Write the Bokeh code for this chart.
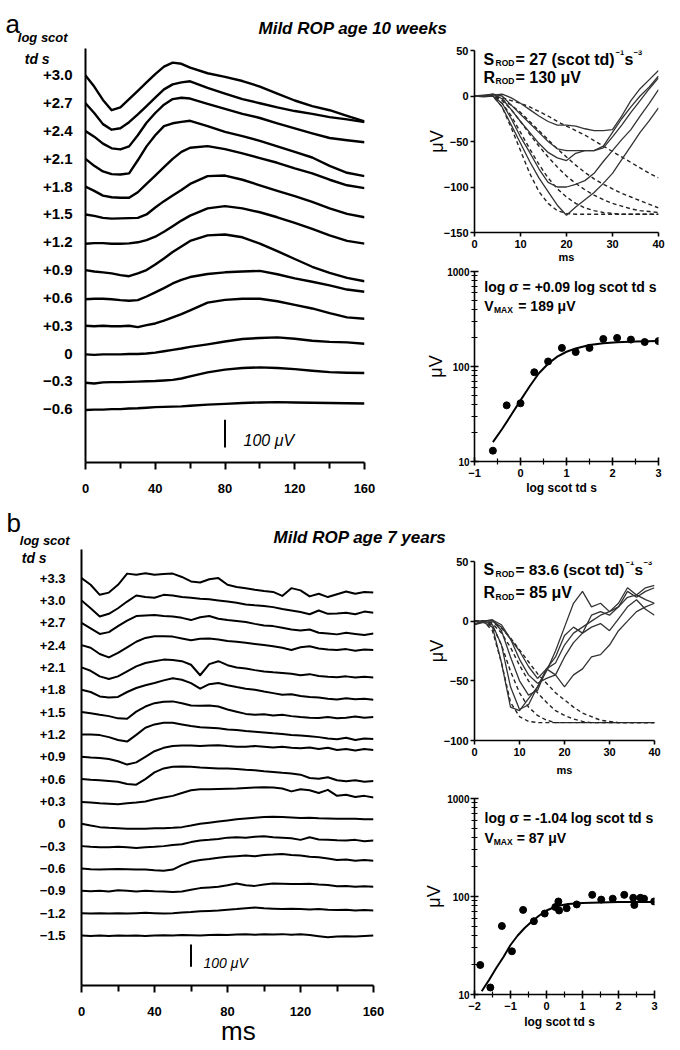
import math
from bokeh.plotting import figure
from bokeh.layouts import row, column
from bokeh.models import Range1d, FixedTicker, Label, LinearAxis
from bokeh.embed import file_html
from bokeh.resources import INLINE

FONT = "Liberation Sans"
M = "\u2212"

# ======================= DATA =======================
# ---- panel a, left: ERG waveforms (uV), time in ms ----
TIME_A = [0, 5, 10, 15, 20, 25, 30, 35, 40, 45, 50, 55, 60, 70, 80, 90, 100, 110, 120, 130, 140, 150, 160]
INTENSITY_A = ["+3.0", "+2.7", "+2.4", "+2.1", "+1.8", "+1.5", "+1.2", "+0.9", "+0.6", "+0.3", "0", M + "0.3", M + "0.6"]
ERG_A = [
    [0, -40, -88, -125, -115, -85, -55, -25, 5, 32, 46, 42, 28, 8, -5, -20, -40, -65, -90, -110, -125, -145, -165],
    [0, -35, -75, -95, -90, -68, -40, -10, 20, 50, 68, 75, 79, 55, 35, 15, 0, -15, -28, -38, -50, -58, -68],
    [0, -20, -45, -62, -66, -55, -15, 30, 65, 95, 115, 120, 117, 98, 80, 62, 47, 28, 10, -8, -25, -33, -40],
    [0, -25, -45, -55, -56, -52, -5, 45, 85, 118, 128, 133, 137, 118, 97, 82, 65, 45, 25, 5, -25, -50, -62],
    [0, -15, -32, -38, -40, -40, -20, 10, 40, 70, 100, 125, 140, 146, 135, 120, 103, 86, 66, 48, 25, 5, -5],
    [0, -5, -12, -15, -14, -13, -12, 0, 25, 48, 68, 88, 110, 138, 140, 125, 105, 85, 66, 45, 22, 2, -10],
    [-5, -3, -3, -5, -5, -4, 0, 8, 20, 38, 58, 78, 96, 122, 130, 122, 108, 90, 70, 48, 25, 5, -5],
    [0, -5, -8, -12, -18, -22, -12, 0, 20, 42, 65, 85, 105, 125, 128, 118, 95, 68, 40, 12, -10, -28, -40],
    [-5, -3, -3, -5, -8, -10, -8, 5, 20, 35, 52, 65, 75, 86, 92, 95, 97, 85, 70, 58, 45, 30, 22],
    [0, -2, 0, -2, -2, 0, -5, 2, 8, 18, 30, 42, 55, 83, 93, 97, 97, 88, 75, 62, 45, 30, 25],
    [-3, -5, -3, -3, -3, -2, -2, 0, 3, 8, 13, 18, 24, 33, 43, 52, 56, 58, 53, 46, 42, 40, 35],
    [-5, -8, -4, -3, -3, -2, -1, 0, 1, 3, 5, 10, 18, 32, 42, 48, 50, 48, 44, 38, 33, 31, 30],
    [-3, -2, -2, 0, 0, 2, 3, 5, 7, 8, 9, 10, 12, 16, 19, 22, 24, 25, 24, 23, 22, 21, 20],
]
SCALE_A_MS = 80
X_TICKS_LEFT = [0, 40, 80, 120, 160]
X_MINOR_LEFT = [20, 60, 100, 140]

# ---- panel b, left ----
TIME_B = [0, 5, 10, 15, 20, 25, 30, 35, 40, 45, 50, 55, 60, 65, 70, 75, 80, 85, 90, 95, 100,
          105, 110, 115, 120, 125, 130, 135, 140, 145, 150, 155, 160]
INTENSITY_B = ["+3.3", "+3.0", "+2.7", "+2.4", "+2.1", "+1.8", "+1.5", "+1.2", "+0.9", "+0.6", "+0.3",
               "0", M + "0.3", M + "0.6", M + "0.9", M + "1.2", M + "1.5"]
ERG_B = [
    [0, -30, -75, -65, -30, 20, 15, 22, 15, 18, 20, 5, -15, -20, -5, 0, -30, -40, -45, -52, -58, -62, -80, -45, -55, -82, -70, -85, -72, -60, -70, -62, -65],
    [0, -35, -72, -60, -35, -5, 22, 15, 12, 25, 22, 15, 12, 8, 5, 0, -5, -10, -18, -22, -25, -30, -38, -45, -52, -62, -45, -60, -58, -55, -62, -50, -55],
    [0, -25, -50, -42, -15, 10, 30, 33, 35, 30, 28, 22, 12, 25, 30, 18, 12, 8, 3, -5, -12, -15, -22, -30, -35, -30, -45, -48, -52, -45, -50, -55, -48],
    [0, -12, -40, -55, -35, -10, 15, 32, 40, 40, 38, 30, 22, 28, 30, 25, 18, 15, 10, 5, 0, -5, -12, -22, -10, -5, -15, -20, -22, -18, -25, -20, -22],
    [0, -15, -40, -52, -40, -18, 5, 20, 28, 35, 33, 28, 12, -35, 15, 28, 10, 0, -5, -12, -18, -22, -25, -28, -35, -30, -38, -42, -44, -40, -45, -42, -45],
    [0, -10, -30, -35, -32, -10, 8, 20, 30, 42, 52, 45, 30, 5, 25, 30, 20, 12, 5, 0, -8, -15, -22, -20, -28, -32, -35, -40, -44, -38, -42, -40, -45],
    [0, -5, -12, -18, -28, -30, 2, 25, 40, 46, 48, 40, 30, 28, 30, 25, 12, 2, -8, -12, -10, -15, -12, -18, -22, -25, -26, -22, -28, -25, -20, -25, -22],
    [0, 0, -3, -12, -25, -32, -2, 30, 45, 52, 52, 45, 38, 32, 30, 28, 22, 20, 15, 12, 9, 5, 2, -2, -5, -8, -12, -18, -22, -15, -25, -18, -20],
    [0, -3, -5, -10, -20, -35, -25, 0, 25, 40, 48, 50, 50, 48, 50, 52, 48, 45, 45, 48, 45, 42, 45, 40, 38, 42, 35, 40, 30, 35, 28, 35, 30],
    [0, -3, -5, -8, -12, -22, -25, 0, 30, 48, 55, 56, 55, 52, 50, 48, 48, 45, 42, 40, 35, 32, 28, 25, 20, 5, 2, 8, -5, -10, -5, -12, -8],
    [-3, -5, -8, -10, -12, -8, -5, 0, 10, 18, 25, 38, 50, 55, 55, 56, 57, 58, 60, 62, 64, 62, 58, 45, 55, 50, 38, 52, 25, 30, 20, 25, 18],
    [0, -8, -15, -18, -20, -22, -22, -22, -20, -20, -18, -15, -8, 0, 5, 10, 15, 20, 24, 27, 30, 31, 30, 28, 26, 27, 25, 24, 22, 23, 22, 20, 20],
    [0, -3, -5, -5, -3, -5, -8, -5, -3, 0, 5, 8, 18, 25, 28, 32, 38, 40, 38, 42, 44, 40, 38, 35, 28, 40, 30, 28, 26, 25, 28, 22, 25],
    [0, -3, -5, -3, -2, -3, -5, -5, -8, -10, -5, 15, 30, 38, 42, 48, 52, 55, 58, 55, 60, 62, 65, 60, 58, 52, 50, 45, 38, 40, 35, 38, 35],
    [0, -2, 0, -3, 2, 0, -3, 0, -2, -3, -5, -3, 5, 12, 15, 18, 25, 33, 25, 22, 28, 33, 32, 30, 30, 32, 28, 26, 20, 22, 18, 20, 18],
    [0, -2, 0, -2, 0, -2, 0, 2, 0, -2, 0, 3, 5, 8, 10, 12, 15, 18, 22, 25, 22, 20, 18, 20, 18, 16, 18, 15, 14, 15, 12, 14, 12],
    [0, -2, 0, -2, 0, -1, 0, -2, 0, 1, 0, 2, 1, 0, 2, 3, 2, 4, 5, 3, 5, 4, 6, 3, 5, 2, -3, -8, -5, -3, -5, -2, 0],
]
SCALE_B_MS = 60

# ---- leading-edge panels (time 0..40 ms) ----
TIME_R = [0, 2, 4, 6, 8, 10, 12, 14, 16, 18, 20, 22, 24, 26, 28, 30, 32, 34, 36, 38, 40]
LEAD_A = [
    [0, -1, 0, -12, -32, -52, -72, -90, -105, -120, -131, -122, -114, -106, -96, -85, -70, -55, -40, -27, -13],
    [0, 0, 0, -8, -25, -45, -62, -80, -95, -100, -100, -97, -93, -85, -72, -60, -48, -37, -22, -8, 7],
    [0, 1, 2, -3, -15, -28, -40, -52, -62, -68, -71, -63, -60, -60, -55, -40, -25, -12, 0, 10, 22],
    [0, 0, 2, 0, -10, -20, -30, -40, -50, -58, -60, -60, -60, -60, -57, -45, -32, -18, -5, 8, 20],
    [0, 0, 1, 2, -2, -8, -15, -22, -28, -32, -32, -33, -36, -38, -38, -37, -22, -5, 8, 18, 28],
]
FIT_A = [
    [0, 0, 0, -12, -35, -60, -85, -105, -118, -126, -129, -130, -130, -130, -130, -130, -130, -130, -130, -130, -130],
    [0, 0, 0, -8, -22, -40, -58, -75, -90, -102, -111, -118, -123, -126, -128, -129, -130, -130, -130, -130, -130],
    [0, 0, 0, -5, -15, -28, -42, -55, -67, -78, -88, -96, -103, -109, -114, -118, -121, -124, -126, -127, -128],
    [0, 0, 0, -4, -10, -18, -28, -38, -48, -58, -67, -76, -84, -91, -97, -102, -107, -111, -115, -119, -123],
    [0, 0, 0, -2, -5, -8, -12, -17, -22, -28, -33, -38, -43, -49, -55, -61, -67, -73, -79, -85, -90],
]
LEAD_B = [
    [-3, -1, -5, -35, -72, -75, -65, -55, -42, -25, -5, 15, 25, 12, 15, 8, 12, 20, 22, 18, 15],
    [-3, 0, -3, -20, -55, -74, -70, -55, -40, -30, -12, -5, -10, 5, 8, 5, 12, 25, 20, 25, 28],
    [-2, 0, 1, -8, -30, -50, -62, -58, -40, -35, -20, -10, -5, 0, 5, 8, 15, 28, 22, 28, 30],
    [0, 0, 1, -3, -15, -32, -45, -52, -48, -45, -30, -18, -10, -5, -2, -8, 2, 12, 18, 10, 5],
    [0, 0, 0, -5, -15, -25, -38, -48, -40, -45, -55, -45, -40, -30, -28, -20, -8, 0, 8, 12, 15],
]
FIT_B = [
    [0, 0, -8, -35, -68, -80, -84, -85, -85, -85, -85, -85, -85, -85, -85, -85, -85, -85, -85, -85, -85],
    [0, 0, -4, -20, -42, -60, -72, -79, -83, -85, -85, -85, -85, -85, -85, -85, -85, -85, -85, -85, -85],
    [0, 0, -2, -10, -22, -37, -50, -60, -68, -75, -79, -82, -84, -85, -85, -85, -85, -85, -85, -85, -85],
    [0, 0, -1, -6, -14, -24, -34, -44, -52, -60, -66, -72, -77, -80, -83, -84, -85, -85, -85, -85, -85],
]

# ---- intensity-response panels ----
IR_A_X = [-0.6, -0.3, 0, 0.3, 0.6, 0.9, 1.2, 1.5, 1.8, 2.1, 2.4, 2.7, 3.0]
IR_A_Y = [13, 39, 41, 87, 113, 157, 142, 157, 195, 200, 192, 181, 185]
IR_A_FIT_X = [-0.6, -0.4, -0.2, 0, 0.2, 0.4, 0.6, 0.8, 1.0, 1.2, 1.5, 1.8, 2.1, 2.5, 3.0]
IR_A_FIT_Y = [16, 22, 31, 44, 62, 85, 107, 127, 143, 155, 168, 176, 180, 183, 185]
IR_B_X = [-1.84, -1.56, -1.24, -0.96, -0.65, -0.35, -0.05, 0.245, 0.33, 0.35, 0.56, 0.84, 1.27, 1.52,
          1.84, 2.16, 2.41, 2.44, 2.61, 2.71, 2.99]
IR_B_Y = [20, 11.8, 50, 27.6, 73, 56, 67, 78, 89, 72, 76, 83, 104, 93, 95, 104, 97, 82, 97, 95, 89]
IR_B_FIT_X = [-1.8, -1.6, -1.4, -1.2, -1.0, -0.8, -0.6, -0.4, -0.2, 0, 0.3, 0.6, 1.0, 1.5, 2.0, 2.5, 3.0]
IR_B_FIT_Y = [10.8, 14, 18.5, 24, 32, 40, 48, 56, 64, 72, 80, 84, 86, 87, 88, 88, 88]

# ======================= LAYOUT (page pixels, origin top-left) =======================
TRACE_STEP = 100
RW = 270  # right column width
GEO = {
    "hA": dict(left=0, top=0, w=678, h=46, fl=0, ft=0, fw=678, fh=46, xr=(0, 678), yr=(46, 0)),
    "LA": dict(left=0, top=46, w=408, h=454, fl=85, ft=48, fw=279, fh=414, xr=(0, 160), yr=(-1392, 97)),
    "TA": dict(left=408, top=46, w=RW, h=219, fl=474, ft=50, fw=184, fh=183, xr=(0, 40), yr=(-150, 50)),
    "IA": dict(left=408, top=265, w=RW, h=235, fl=473, ft=271, fw=189, fh=190, xr=(-1, 3), yr=(10, 1000), log=True),
    "hB": dict(left=0, top=500, w=678, h=48, fl=0, ft=500, fw=678, fh=48, xr=(0, 678), yr=(548, 500)),
    "LB": dict(left=0, top=548, w=408, h=500, fl=81, ft=549, fw=292, fh=443, xr=(0, 160), yr=(-1824, 128)),
    "TB": dict(left=408, top=548, w=RW, h=237, fl=474, ft=561, fw=180, fh=179, xr=(0, 40), yr=(-100, 50)),
    "IB": dict(left=408, top=785, w=RW, h=263, fl=472, ft=798, fw=196, fh=196, xr=(-2, 3), yr=(10, 1000), log=True),
}


def make_fig(g, axes=True):
    bl = g["fl"] - g["left"]
    bt = g["ft"] - g["top"]
    kw = dict(width=g["w"], height=g["h"], x_range=Range1d(*g["xr"]), y_range=Range1d(*g["yr"]),
              min_border_left=bl, min_border_top=bt,
              min_border_right=g["w"] - bl - g["fw"], min_border_bottom=g["h"] - bt - g["fh"],
              toolbar_location=None, output_backend="svg")
    if not axes:
        kw.update(x_axis_type=None, y_axis_type=None)
    elif g.get("log"):
        kw.update(y_axis_type="log")
    p = figure(**kw)
    p.title.visible = False
    p.outline_line_color = None
    p.background_fill_color = "white"
    p.border_fill_color = "white"
    if axes:
        p.xgrid.visible = False
        p.ygrid.visible = False
    return p


def to_data(g, px, py):
    x0, x1 = g["xr"]
    y0, y1 = g["yr"]
    x = x0 + (px - g["fl"]) / g["fw"] * (x1 - x0)
    if g.get("log"):
        l0, l1 = math.log10(y0), math.log10(y1)
        y = 10 ** (l1 - (py - g["ft"]) / g["fh"] * (l1 - l0))
    else:
        y = y1 - (py - g["ft"]) / g["fh"] * (y1 - y0)
    return x, y


def txt(p, g, px, py, text, size, style="bold", align="left", baseline="alphabetic"):
    x, y = to_data(g, px, py)
    p.add_layout(Label(x=x, y=y, text=text, text_font=FONT, text_font_size=f"{size}px",
                       text_font_style=style, text_align=align, text_baseline=baseline,
                       text_color="black"))


def style_axis(ax, size, lw, t_out, t_in, standoff, m_out=0, m_in=0):
    ax.axis_line_color = "black"
    ax.axis_line_width = lw
    ax.major_tick_line_color = "black"
    ax.major_tick_line_width = lw
    ax.major_tick_out = t_out
    ax.major_tick_in = t_in
    ax.minor_tick_line_color = "black"
    ax.minor_tick_line_width = 1.2
    ax.minor_tick_out = m_out
    ax.minor_tick_in = m_in
    ax.major_label_text_font = FONT
    ax.major_label_text_font_size = f"{size}px"
    ax.major_label_text_font_style = "bold"
    ax.major_label_text_color = "black"
    ax.major_label_standoff = standoff


def axis_title(ax, text, size, standoff, style="bold"):
    ax.axis_label = text
    ax.axis_label_text_font = FONT
    ax.axis_label_text_font_size = f"{size}px"
    ax.axis_label_text_font_style = style
    ax.axis_label_text_color = "black"
    ax.axis_label_standoff = standoff


def tick_text(v):
    return f"{v:g}".replace("-", M)


def text_axis(p, side, pos, text, size, style, standoff):
    """An extra, line-less axis that carries a single text label at a data position."""
    ax = LinearAxis(ticker=FixedTicker(ticks=[pos]), major_label_overrides={pos: text},
                    axis_line_color=None, major_tick_line_color=None, minor_tick_line_color=None,
                    major_tick_out=0, major_tick_in=0, minor_tick_out=0, minor_tick_in=0)
    ax.major_label_text_font = FONT
    ax.major_label_text_font_size = f"{size}px"
    ax.major_label_text_font_style = style
    ax.major_label_text_color = "black"
    ax.major_label_standoff = standoff
    p.add_layout(ax, side)
    return ax


# ---------------- headers ----------------
def header(g, letter, letter_x, letter_y, title, title_x, title_y, ls_x, ls_y):
    p = make_fig(g, axes=False)
    txt(p, g, letter_x, letter_y, letter, 26, style="normal")
    txt(p, g, title_x, title_y, title, 17, style="bold italic")
    txt(p, g, ls_x, ls_y, "log  scot", 13, style="bold italic", align="center")
    return p


hA = header(GEO["hA"], "a", 5, 23, "Mild ROP  age 10 weeks", 258, 28, 44, 37)
hB = header(GEO["hB"], "b", 6, 522, "Mild ROP  age 7 years", 273, 537, 46, 540)


# ---------------- ERG stacks ----------------
def erg_panel(g, times, traces, labels, scale_ms, label_size, label_standoff, lw, td_py,
              bar_bottom_py, scale_px, scale_py, scale_size):
    p = make_fig(g)
    offsets = [-k * TRACE_STEP for k in range(len(traces))]
    xs = [times] * len(traces)
    ys = [[v + off for v in tr] for tr, off in zip(traces, offsets)]
    p.multi_line(xs, ys, line_color="black", line_width=lw, line_join="round")
    _, yb = to_data(g, 0, bar_bottom_py)
    p.segment(x0=[scale_ms], y0=[yb], x1=[scale_ms], y1=[yb + 100], line_color="black", line_width=2)
    ya = p.yaxis[0]
    style_axis(ya, label_size, 2, 0, 0, label_standoff)
    ya.ticker = FixedTicker(ticks=offsets)
    ya.major_label_overrides = {float(o): lab for o, lab in zip(offsets, labels)}
    xa = p.xaxis[0]
    style_axis(xa, 13, 2, 7, 0, 14, m_out=6)
    xa.minor_tick_line_width = 2
    xa.ticker = FixedTicker(ticks=X_TICKS_LEFT, minor_ticks=X_MINOR_LEFT)
    _, ytd = to_data(g, 0, td_py)
    text_axis(p, "left", float(round(ytd)), "td  s", 14, "bold italic", -14)
    txt(p, g, scale_px, scale_py, "100  \u03bcV", scale_size, style="italic")
    return p


LA = erg_panel(GEO["LA"], TIME_A, ERG_A, INTENSITY_A, SCALE_A_MS, 15, 13, 2.4, 58, 447, 243, 440, 16)
LB = erg_panel(GEO["LB"], TIME_B, ERG_B, INTENSITY_B, SCALE_B_MS, 13, 16, 2.0, 558, 973, 203, 969, 14)
ms_x, _ = to_data(GEO["LB"], 238, 0)
text_axis(LB, "below", float(round(ms_x)), "ms", 26, "normal", -3)


# ---------------- leading edge panels ----------------
def lead_panel(g, lead, fits, yticks, ms_standoff):
    p = make_fig(g)
    p.multi_line([TIME_R] * len(fits), fits, line_color="#222222", line_width=1.4, line_dash="4 3")
    p.multi_line([TIME_R] * len(lead), lead, line_color="#333333", line_width=1.3)
    ya = p.yaxis[0]
    style_axis(ya, 11, 1.6, 4, 0, 2)
    ya.ticker = FixedTicker(ticks=yticks)
    ya.major_label_overrides = {float(v): tick_text(v) for v in yticks}
    axis_title(ya, "\u03bcV", 18, -6, style="normal")
    xa = p.xaxis[0]
    style_axis(xa, 11, 1.6, 4, 0, 3)
    xa.ticker = FixedTicker(ticks=[0, 10, 20, 30, 40])
    axis_title(xa, "ms", 11, ms_standoff)
    return p


TA = lead_panel(GEO["TA"], LEAD_A, FIT_A, [50, 0, -50, -100, -150], 0)
g = GEO["TA"]
txt(TA, g, 483, 59, "S", 16)
txt(TA, g, 495, 63, "ROD", 8.5)
txt(TA, g, 515, 59, "= 27 (scot td)", 16)
txt(TA, g, 615, 52, M + "1", 7.5)
txt(TA, g, 624, 59, "s", 16)
txt(TA, g, 633, 52, M + "3", 7.5)
txt(TA, g, 483, 77, "R", 16)
txt(TA, g, 495, 81, "ROD", 8.5)
txt(TA, g, 515, 77, "= 130 \u03bcV", 16)

TB = lead_panel(GEO["TB"], LEAD_B, FIT_B, [50, 0, -50, -100], 5)
g = GEO["TB"]
txt(TB, g, 483, 569, "S", 16)
txt(TB, g, 495, 573, "ROD", 8.5)
txt(TB, g, 515, 569, "= 83.6 (scot td)", 15.5)
txt(TB, g, 625, 562, M + "1", 7.5)
txt(TB, g, 634, 569, "s", 15.5)
txt(TB, g, 643, 562, M + "3", 7.5)
txt(TB, g, 483, 592, "R", 16)
txt(TB, g, 495, 596, "ROD", 8.5)
txt(TB, g, 515, 592, "= 85 \u03bcV", 16)


# ---------------- intensity-response panels ----------------
def ir_panel(g, px, py, fx, fy, xticks, mu_standoff, xl_standoff):
    p = make_fig(g)
    p.line(fx, fy, line_color="black", line_width=2)
    p.scatter(px, py, size=7, color="black")
    ya = p.yaxis[0]
    style_axis(ya, 10, 1.6, 4, 4, 1, m_out=3, m_in=3)
    minor = [m * d for d in (10, 100) for m in range(2, 10)]
    ya.ticker = FixedTicker(ticks=[10, 100, 1000], minor_ticks=minor)
    ya.major_label_overrides = {10.0: "10", 100.0: "100", 1000.0: "1000"}
    axis_title(ya, "\u03bcV", 18, mu_standoff, style="normal")
    xa = p.xaxis[0]
    style_axis(xa, 11, 1.6, 4, 4, 3, m_out=3, m_in=3)
    xa.ticker = FixedTicker(ticks=xticks, minor_ticks=[v + 0.5 for v in xticks[:-1]])
    xa.major_label_overrides = {float(v): tick_text(v) for v in xticks}
    axis_title(xa, "log  scot  td  s", 12, xl_standoff)
    return p


IA = ir_panel(GEO["IA"], IR_A_X, IR_A_Y, IR_A_FIT_X, IR_A_FIT_Y, [-1, 0, 1, 2, 3], -2, 1)
g = GEO["IA"]
txt(IA, g, 483, 286, "log \u03c3 = +0.09 log scot td s", 14)
txt(IA, g, 483, 305, "V", 14)
txt(IA, g, 493, 309, "MAX", 8.5)
txt(IA, g, 518, 305, "= 189 \u03bcV", 14)

IB = ir_panel(GEO["IB"], IR_B_X, IR_B_Y, IR_B_FIT_X, IR_B_FIT_Y, [-2, -1, 0, 1, 2, 3], 0, 2)
g = GEO["IB"]
txt(IB, g, 483, 817, "log \u03c3 = -1.04 log scot td s", 14)
txt(IB, g, 483, 837, "V", 14)
txt(IB, g, 493, 841, "MAX", 8.5)
txt(IB, g, 518, 837, "= 87 \u03bcV", 14)

layout = column(
    hA,
    row(LA, column(TA, IA)),
    hB,
    row(LB, column(TB, IB)),
)

with open("out.html", "w") as f:
    f.write(file_html(layout, INLINE, title="Mild ROP"))
